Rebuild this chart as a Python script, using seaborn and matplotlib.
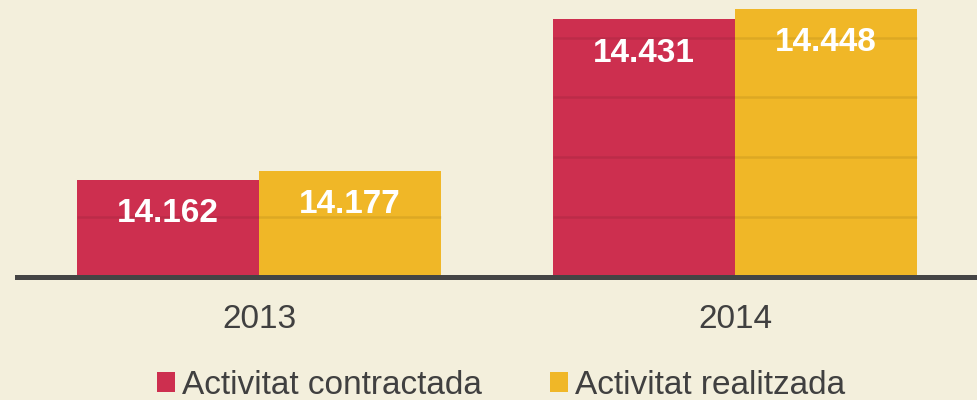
import matplotlib
matplotlib.use("Agg")
import matplotlib.pyplot as plt
import seaborn as sns
import pandas as pd

years = ["2013", "2014"]
series = ["Activitat contractada", "Activitat realitzada"]
contractada = [14162, 14431]
realitzada = [14177, 14448]
grid_values = [14100, 14200, 14300, 14400]

bg = "#f3efdc"
colors = ["#cd2f4f", "#f0b727"]
text_color = "#404040"

sns.set_theme(style="white")
plt.rcParams["font.family"] = ["Liberation Sans", "DejaVu Sans"]

df = pd.DataFrame({
    "year": years * 2,
    "series": [series[0]] * 2 + [series[1]] * 2,
    "value": contractada + realitzada,
})

fig = plt.figure(figsize=(9.77, 4.0), dpi=100, facecolor=bg)
ax = fig.add_axes([17 / 977, (400 - 276.5) / 400, (975 - 17) / 977, 276.5 / 400])
ax.set_facecolor(bg)

sns.barplot(data=df, x="year", y="value", hue="series", hue_order=series,
            palette=colors, width=0.765, gap=0, linewidth=0, saturation=1,
            errorbar=None, ax=ax)

ax.set_ylim(14000, 14463)
ax.set_xlim(-0.5084, 1.5042)

# faint gridlines visible only over the bars
for cont in ax.containers:
    for p in cont.patches:
        x0 = p.get_x()
        x1 = x0 + p.get_width()
        top = p.get_y() + p.get_height()
        ys = [g for g in grid_values if g < top]
        if ys:
            ax.hlines(ys, x0, x1, colors=[(0, 0, 0, 0.08)], linewidth=1.8, zorder=3)
        ax.annotate(f"{int(round(top)):,}".replace(",", "."),
                    xy=(x0 + p.get_width() / 2, top), xytext=(0, -24.5),
                    textcoords="offset points", ha="center", va="center",
                    color="white", fontsize=24, fontweight="bold", zorder=5)

for s in ["top", "left", "right"]:
    ax.spines[s].set_visible(False)
ax.spines["bottom"].set_color("#444444")
ax.spines["bottom"].set_linewidth(3.6)
ax.spines["bottom"].set_zorder(4)
ax.set_yticks([])
ax.set_xlabel("")
ax.set_ylabel("")
ax.tick_params(axis="x", length=0, pad=19.5, labelsize=24, labelcolor=text_color)

sns.move_legend(ax, "center", bbox_to_anchor=(0.513, 0.037),
                bbox_transform=fig.transFigure, ncol=2, frameon=False,
                title=None, fontsize=24, handlelength=0.54, handleheight=0.54,
                handletextpad=0.21, columnspacing=2.05, borderpad=0, borderaxespad=0)
for t in ax.get_legend().get_texts():
    t.set_color(text_color)

fig.savefig("out.png", dpi=100, facecolor=bg)
